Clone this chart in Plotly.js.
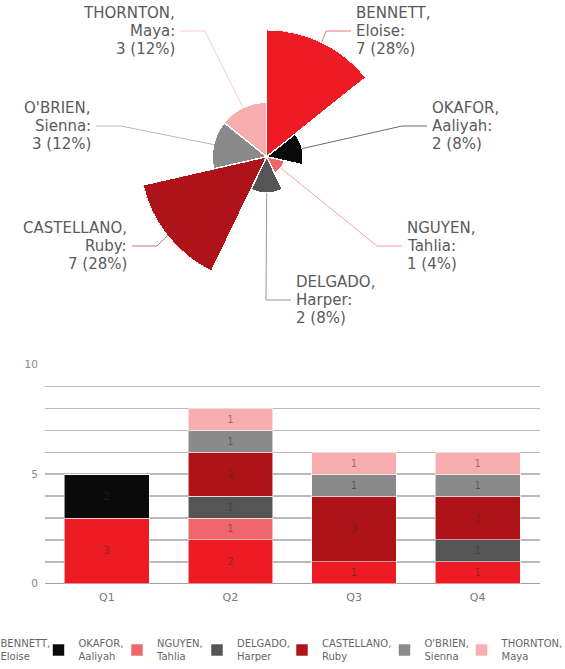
<!DOCTYPE html>
<html><head><meta charset="utf-8">
<script src="https://cdn.plot.ly/plotly-3.0.1.min.js"></script>
<style>html,body{margin:0;padding:0;background:#fff}#chart{width:565px;height:669px}</style>
</head><body><div id="chart"></div>
<script>
// ---------------- DATA ----------------
const quarters = ['Q1', 'Q2', 'Q3', 'Q4'];
const lastNames = ['BENNETT', 'OKAFOR', 'NGUYEN', 'DELGADO', 'CASTELLANO', "O'BRIEN", 'THORNTON'];
const firstNames = ['Eloise', 'Aaliyah', 'Tahlia', 'Harper', 'Ruby', 'Sienna', 'Maya'];
const bennett    = [3, 2, 1, 1];
const okafor     = [2, 0, 0, 0];
const nguyen     = [0, 1, 0, 0];
const delgado    = [0, 1, 0, 1];
const castellano = [0, 2, 3, 2];
const obrien     = [0, 1, 1, 1];
const thornton   = [0, 1, 1, 1];
const yTickVals = [0, 1, 2, 3, 4, 5, 6, 7, 8, 9, 10];
const yTickText = ['0', '', '', '', '', '5', '', '', '', '', '10'];

// ---------------- STYLE / LAYOUT ----------------
const seriesValues = [bennett, okafor, nguyen, delgado, castellano, obrien, thornton];
const colors = ['#ED1B24', '#0A0A0A', '#F0666D', '#555555', '#AD1319', '#8A8A8A', '#F8AEAE'];
const FONT = 'DejaVu Sans, sans-serif';
const W = 565, H = 669;

const totals = seriesValues.map(a => a.reduce((s, v) => s + v, 0));
const grand = totals.reduce((s, v) => s + v, 0);
const catNames = lastNames.map((l, i) => l + ', ' + firstNames[i]);
const rMax = Math.max(...totals);
const n = lastNames.length;
const rotation = 90 - 180 / n;

const polarDomX = [139.7 / W, 393.7 / W];
const polarDomY = [1 - 283.7 / H, 1 - 29.7 / H];
// label elbow points (px) and side of text
const labelElbow = [[326, 31], [402, 126], [377, 246], [266, 300], [157, 246], [121, 126], [205, 31]];
const labelSide = [1, 1, 1, 1, -1, -1, -1];
const linePitch = 17.8;
// legend text start positions (px)
const legendTextX = [0.5, 78.5, 157, 237, 322, 424.5, 501.6];

const traces = [];
traces.push({
  type: 'barpolar',
  r: totals,
  theta: catNames,
  marker: { color: colors, line: { color: '#ffffff', width: 1.5 } },
  showlegend: false,
  hoverinfo: 'skip',
  subplot: 'polar'
});
seriesValues.forEach((vals, i) => {
  traces.push({
    type: 'bar',
    x: quarters,
    y: vals,
    name: lastNames[i] + ',<br>' + firstNames[i],
    marker: { color: colors[i], line: { color: 'rgba(255,255,255,0.55)', width: 1 } },
    text: vals.map(v => v ? String(v) : ''),
    textposition: 'inside',
    insidetextanchor: 'middle',
    textangle: 0,
    constraintext: 'none',
    textfont: { family: FONT, size: 10, color: 'rgba(45,45,45,0.5)' },
    hoverinfo: 'skip',
    legend: i === 0 ? 'legend' : 'legend' + (i + 1),
    xaxis: 'x', yaxis: 'y'
  });
});

// polar geometry in px for leader lines
const cxPx = (polarDomX[0] + polarDomX[1]) / 2 * W;
const cyPx = (1 - (polarDomY[0] + polarDomY[1]) / 2) * H;
const Rpx = Math.min((polarDomX[1] - polarDomX[0]) * W, (polarDomY[1] - polarDomY[0]) * H) / 2;
const toPX = x => x / W, toPY = y => 1 - y / H;

const annotations = [];
const shapes = [];
lastNames.forEach((ln, i) => {
  const a = (rotation - i * 360 / n) * Math.PI / 180;
  const rp = totals[i] / rMax * Rpx;
  const px = cxPx + rp * Math.cos(a), py = cyPx - rp * Math.sin(a);
  const [ex, ey] = labelElbow[i];
  const side = labelSide[i];
  const sx = ex + side * 25;
  shapes.push({
    type: 'path', xref: 'paper', yref: 'paper',
    path: `M${toPX(px)},${toPY(py)} L${toPX(ex)},${toPY(ey)} L${toPX(sx)},${toPY(ey)}`,
    line: { color: colors[i], width: 1 }, opacity: 0.6
  });
  const pct = Math.round(totals[i] / grand * 100);
  const lines = [ln + ',', firstNames[i] + ':', totals[i] + ' (' + pct + '%)'];
  lines.forEach((t, k) => {
    annotations.push({
      xref: 'paper', yref: 'paper',
      x: toPX(ex + side * 30), y: toPY(ey + (k - 1) * linePitch),
      xanchor: side > 0 ? 'left' : 'right', yanchor: 'middle',
      text: t, showarrow: false, borderpad: 0, borderwidth: 0,
      font: { family: FONT, size: 15, color: '#5a5a5a' }
    });
  });
});

const layout = {
  width: W, height: H,
  margin: { l: 0, r: 0, t: 0, b: 0, autoexpand: false },
  paper_bgcolor: '#ffffff', plot_bgcolor: 'rgba(0,0,0,0)',
  font: { family: FONT, color: '#666' },
  barmode: 'stack', bargap: 0.315,
  polar: {
    domain: { x: polarDomX, y: polarDomY },
    bgcolor: 'rgba(0,0,0,0)',
    bargap: 0,
    radialaxis: { visible: false, range: [0, rMax] },
    angularaxis: { visible: false, direction: 'clockwise', rotation: rotation, type: 'category' }
  },
  xaxis: {
    domain: [45 / W, 539.5 / W], anchor: 'y',
    showgrid: false, showline: false, zeroline: false,
    ticks: 'outside', ticklen: 3, tickcolor: 'rgba(0,0,0,0)',
    tickfont: { family: FONT, size: 11, color: '#777' }
  },
  yaxis: {
    domain: [1 - 583.7 / H, 1 - 364.7 / H], anchor: 'x',
    range: [0, 10], tickmode: 'array', tickvals: yTickVals, ticktext: yTickText,
    showgrid: true, gridcolor: '#bababa', gridwidth: 1.5,
    zeroline: true, zerolinecolor: '#a0a0a0', zerolinewidth: 1.5,
    showline: false,
    ticks: 'outside', ticklen: 4, tickcolor: 'rgba(0,0,0,0)',
    tickfont: { family: FONT, size: 10.5, color: '#888' }
  },
  annotations: annotations,
  shapes: shapes,
  showlegend: true
};
legendTextX.forEach((tx, i) => {
  const key = i === 0 ? 'legend' : 'legend' + (i + 1);
  layout[key] = {
    x: (tx - 40) / W, xanchor: 'left', y: 1 - 650 / H, yanchor: 'middle',
    orientation: 'h', bgcolor: 'rgba(0,0,0,0)', borderwidth: 0,
    font: { family: FONT, size: 10, color: '#666' }
  };
});

Plotly.newPlot('chart', traces, layout, { staticPlot: true, displayModeBar: false });
</script>
</body></html>
